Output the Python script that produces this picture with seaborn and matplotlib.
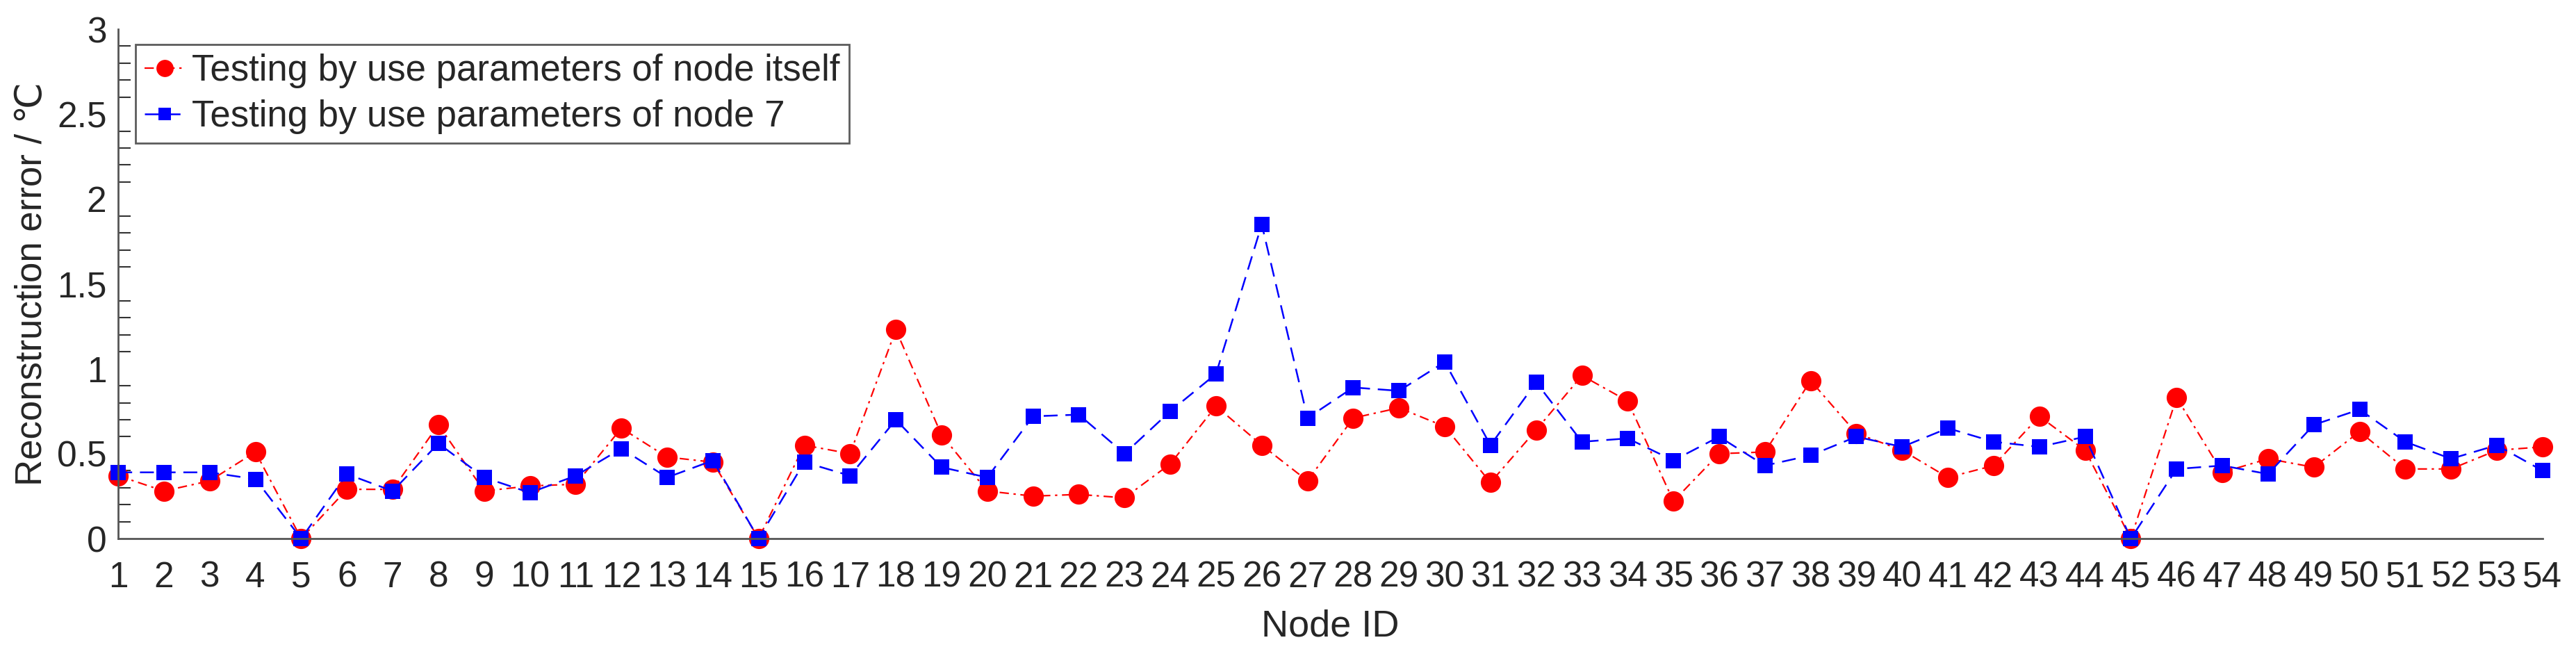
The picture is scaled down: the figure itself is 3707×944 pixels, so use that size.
import matplotlib
matplotlib.use("Agg")
import matplotlib.pyplot as plt
import seaborn as sns
import numpy as np
from matplotlib.ticker import MultipleLocator

# node ids and reconstruction errors
node_ids = np.arange(1, 55)

err_self = [0.37, 0.28, 0.34, 0.51, 0.00, 0.29, 0.29, 0.67, 0.28, 0.31,
            0.32, 0.65, 0.48, 0.45, 0.00, 0.55, 0.50, 1.23, 0.61, 0.28,
            0.25, 0.26, 0.24, 0.44, 0.78, 0.55, 0.34, 0.71, 0.77, 0.66,
            0.33, 0.64, 0.96, 0.81, 0.22, 0.50, 0.51, 0.93, 0.62, 0.52,
            0.36, 0.43, 0.72, 0.52, 0.00, 0.83, 0.39, 0.47, 0.42, 0.63,
            0.41, 0.41, 0.52, 0.54]

err_node7 = [0.39, 0.39, 0.39, 0.35, 0.00, 0.38, 0.28, 0.56, 0.36, 0.27,
             0.37, 0.53, 0.36, 0.46, 0.00, 0.45, 0.37, 0.70, 0.42, 0.36,
             0.72, 0.73, 0.50, 0.75, 0.97, 1.85, 0.71, 0.89, 0.87, 1.04,
             0.55, 0.92, 0.57, 0.59, 0.46, 0.60, 0.43, 0.49, 0.60, 0.54,
             0.65, 0.57, 0.54, 0.60, 0.00, 0.41, 0.43, 0.38, 0.67, 0.76,
             0.57, 0.47, 0.55, 0.40]

y_ticks = [0, 0.5, 1, 1.5, 2, 2.5, 3]
y_tick_labels = ["0", "0.5", "1", "1.5", "2", "2.5", "3"]

sns.set_style("white")
plt.rcParams['font.family'] = ['Liberation Sans', 'DejaVu Sans']

fig, ax = plt.subplots(figsize=(37.07, 9.44), dpi=100)
fig.subplots_adjust(left=0.0459, right=0.987, bottom=0.179, top=0.9555)

sns.lineplot(x=node_ids, y=err_self, ax=ax, color='#ff0000',
             linestyle=(0, (6, 3, 1.5, 3)), linewidth=1.6,
             marker='o', markersize=21, markeredgecolor='#ff0000',
             markeredgewidth=0, clip_on=False,
             label='Testing by use parameters of node itself')
sns.lineplot(x=node_ids, y=err_node7, ax=ax, color='#0000ff',
             linestyle=(0, (8, 4.5)), linewidth=1.8,
             marker='s', markersize=16, markeredgecolor='#0000ff',
             markeredgewidth=0, clip_on=False,
             label='Testing by use parameters of node 7')

ax.set_xlim(1, 54)
ax.set_ylim(0, 3)
ax.set_xticks(node_ids)
ax.set_xticklabels([str(i) for i in node_ids])
ax.set_yticks(y_ticks)
ax.set_yticklabels(y_tick_labels)
ax.yaxis.set_minor_locator(MultipleLocator(0.1))

for s in ['top', 'right']:
    ax.spines[s].set_visible(False)
for s in ['left', 'bottom']:
    ax.spines[s].set_color('#555555')
    ax.spines[s].set_linewidth(2)

ax.tick_params(axis='x', which='major', direction='in', length=26, width=1.5,
               color='#333333', labelsize=37, labelcolor='#262626', pad=23)
ax.tick_params(axis='y', which='major', direction='in', length=26, width=1.5,
               color='#333333', labelsize=37, labelcolor='#262626', pad=12)
ax.tick_params(axis='y', which='minor', direction='in', length=13, width=1.5,
               color='#333333', left=True)

ax.set_xlabel('Node ID', fontsize=39, color='#262626', labelpad=15)
ax.set_ylabel('Reconstruction error / ℃', fontsize=38, color='#262626',
              labelpad=8)

leg = ax.legend(loc='upper left', bbox_to_anchor=(0.007, 0.97), fontsize=38,
                frameon=True, fancybox=False, borderpad=0.25, labelspacing=0.3,
                handlelength=1.1, handletextpad=0.2, borderaxespad=0,
                markerscale=0.85)
leg.get_frame().set_edgecolor('#333333')
leg.get_frame().set_linewidth(2)

plt.savefig('out.png', dpi=100)
plt.close()
